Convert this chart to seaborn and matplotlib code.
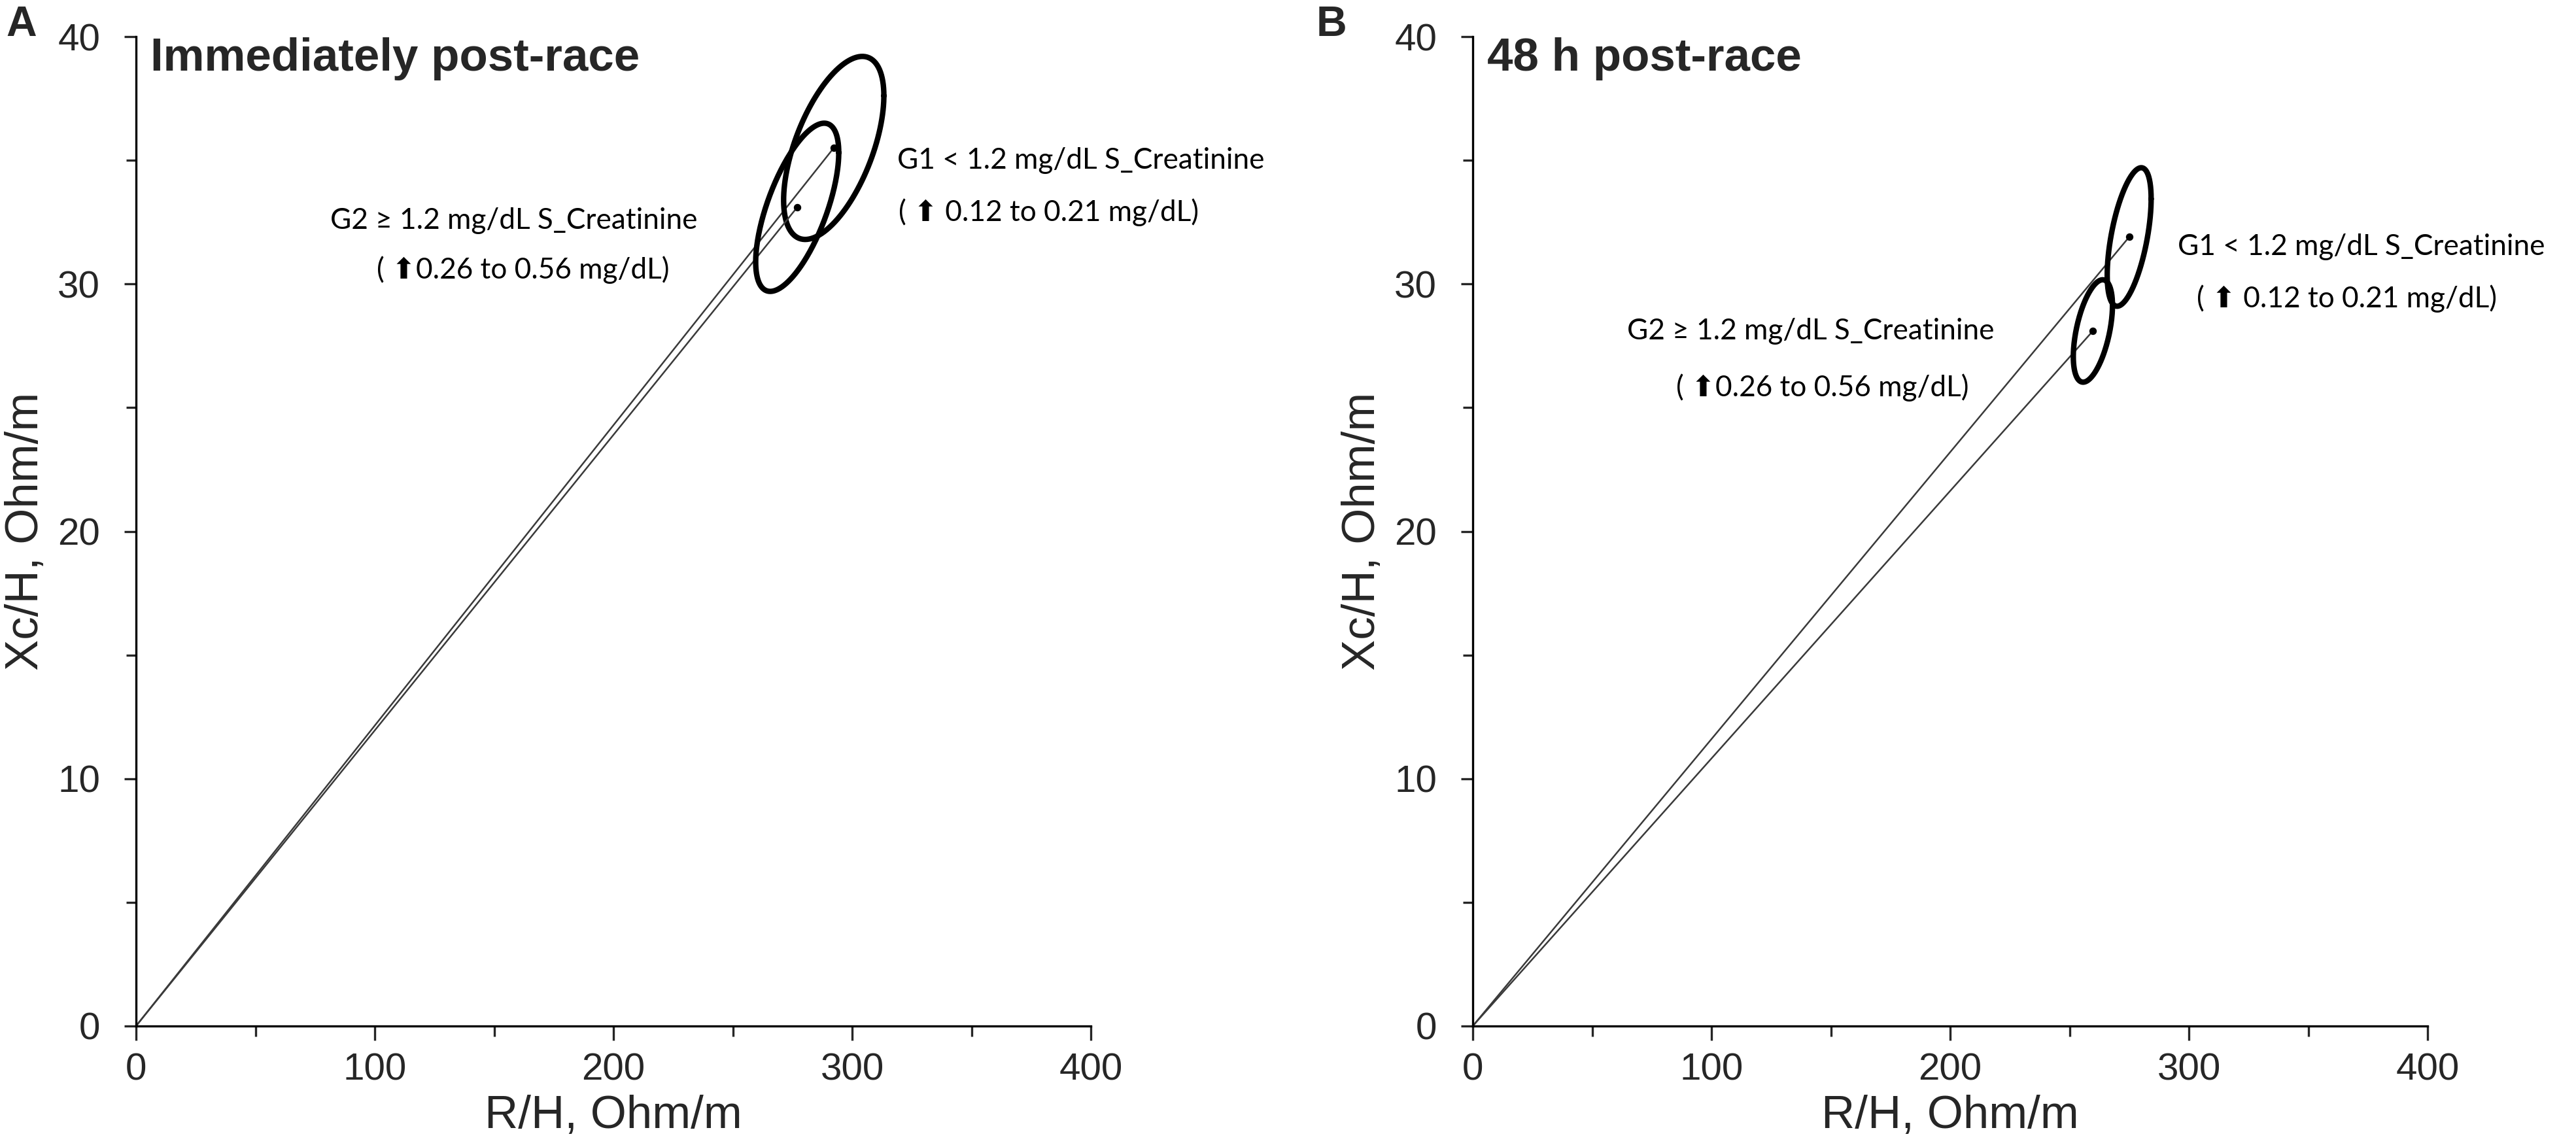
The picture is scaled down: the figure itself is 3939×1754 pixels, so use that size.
import numpy as np
import pandas as pd
import matplotlib
matplotlib.use("Agg")
import matplotlib.pyplot as plt
import seaborn as sns

# ---- data ----
panel_letters = ["A", "B"]
panel_titles = ["Immediately post-race", "48 h post-race"]
groups = ["G1", "G2"]

# mean vectors (R/H, Xc/H) per panel, order G1, G2
mean_r = [[292.3, 277.0], [275.0, 259.8]]
mean_xc = [[35.5, 33.1], [31.9, 28.1]]

# 95% confidence ellipses: half-range on R/H, half-range on Xc/H, correlation
ell_half_r = [[21.0, 17.4], [9.2, 8.2]]
ell_half_xc = [[3.7, 3.4], [2.8, 2.07]]
ell_rho = [[0.57, 0.65], [0.55, 0.50]]

label_text = {
    "G1": ["G1 < 1.2 mg/dL S_Creatinine", "( \u2B06 0.12 to 0.21 mg/dL)"],
    "G2": ["G2 \u2265 1.2 mg/dL S_Creatinine", "( \u2B060.26 to 0.56 mg/dL)"],
}

x_ticks = [0, 100, 200, 300, 400]
y_ticks = [0, 10, 20, 30, 40]

# label anchors per text line (data coords, horizontal alignment)
label_pos = [
    {"G1": [(318.9, 35.0, "left"), (319.5, 32.9, "left")],
     "G2": [(158.2, 32.55, "center"), (162.1, 30.56, "center")]},
    {"G1": [(372.2, 31.5, "center"), (366.3, 29.4, "center")],
     "G2": [(141.5, 28.1, "center"), (146.4, 25.8, "center")]},
]


def ellipse_frame(cx, cy, hx, hy, rho, n=240):
    t = np.linspace(0, 2 * np.pi, n)
    x = cx + hx * np.cos(t)
    y = cy + hy * (rho * np.cos(t) + np.sqrt(1 - rho ** 2) * np.sin(t))
    return pd.DataFrame({"x": x, "y": y})


sns.set_style("ticks")
plt.rcParams["font.family"] = ["Liberation Sans", "DejaVu Sans"]
plt.rcParams["axes.linewidth"] = 0.8

W, H, DPI = 3939, 1754, 300
fig = plt.figure(figsize=(W / DPI, H / DPI), dpi=DPI)

ax_w = 1460 / W
ax_h = 1513 / H
ax_y0 = (H - 1569) / H
ax_x0 = [208 / W, 2252 / W]
letter_x = [9 / W, 2013 / W]

for p in range(2):
    ax = fig.add_axes([ax_x0[p], ax_y0, ax_w, ax_h])

    for g in range(2):
        # vector from origin to mean
        vec = pd.DataFrame({"x": [0, mean_r[p][g]], "y": [0, mean_xc[p][g]]})
        sns.lineplot(data=vec, x="x", y="y", sort=False, estimator=None,
                     color="#3a3a3a", lw=0.6, ax=ax)
        ell = ellipse_frame(mean_r[p][g], mean_xc[p][g], ell_half_r[p][g],
                            ell_half_xc[p][g], ell_rho[p][g])
        sns.lineplot(data=ell, x="x", y="y", sort=False, estimator=None,
                     color="black", lw=2.0, ax=ax)
        ax.scatter([mean_r[p][g]], [mean_xc[p][g]], s=3, color="black", zorder=5)

    for gname in groups:
        for line, (lx, ly, ha) in zip(label_text[gname], label_pos[p][gname]):
            ax.text(lx, ly, line, ha=ha, va="center", fontsize=10.6,
                    family=["Lato", "DejaVu Sans"], color="black")

    ax.set_xlim(0, 400)
    ax.set_ylim(0, 40)
    ax.set_xticks(x_ticks)
    ax.set_yticks(y_ticks)
    ax.set_xticks([50, 150, 250, 350], minor=True)
    ax.set_yticks([5, 15, 25, 35], minor=True)
    ax.tick_params(axis="x", which="major", length=5.3, width=0.8, pad=4.5,
                   labelsize=14, direction="out")
    ax.tick_params(axis="x", which="minor", length=3.8, width=0.8, direction="out")
    ax.tick_params(axis="y", which="major", length=4.3, width=0.8, pad=8.9,
                   labelsize=14, direction="out")
    ax.tick_params(axis="y", which="minor", length=3.6, width=0.8, direction="out")
    sns.despine(ax=ax)
    for s in ["left", "bottom"]:
        ax.spines[s].set_color("black")

    ax.set_xlabel("R/H, Ohm/m", fontsize=17)
    ax.set_ylabel("Xc/H, Ohm/m", fontsize=17)
    ax.xaxis.set_label_coords(0.5, -0.0694)
    ax.yaxis.set_label_coords(-0.0925, 0.5)

    ax.text(0.015, 0.9656, panel_titles[p], transform=ax.transAxes,
            fontsize=17, fontweight="bold", ha="left", va="baseline")
    fig.text(letter_x[p], 1 - 55 / H, panel_letters[p], fontsize=15.5,
             fontweight="bold", ha="left", va="baseline")

fig.savefig("out.png", dpi=DPI)
